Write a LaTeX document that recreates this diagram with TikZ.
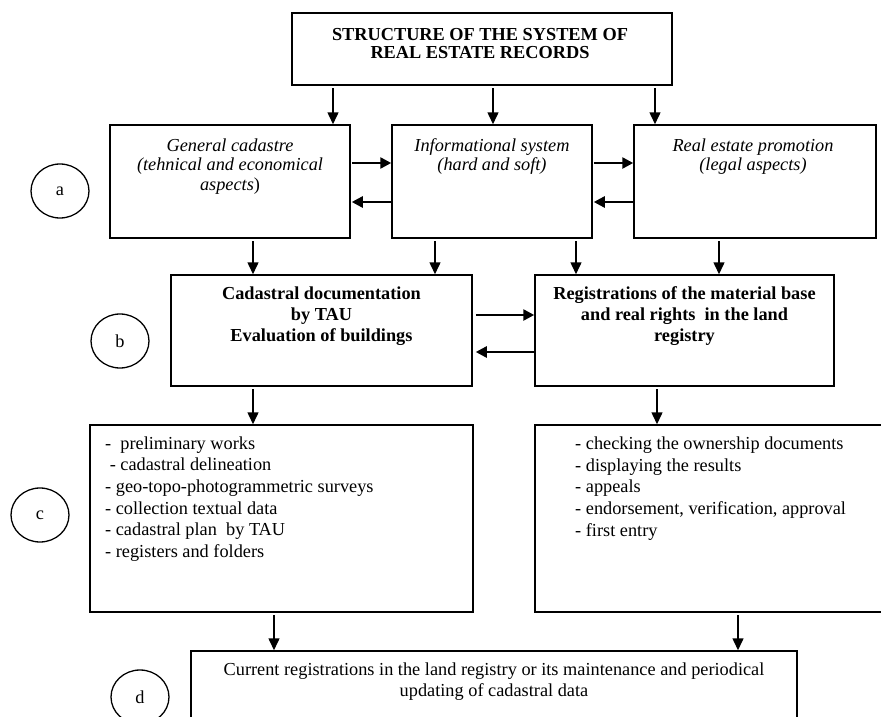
\documentclass[tikz,border=0pt]{standalone}
\usepackage{fontspec}
\setmainfont{Liberation Serif}
\usetikzlibrary{arrows.meta,shapes.geometric}
\newcommand{\myfs}{\fontsize{18.3}{21}\selectfont}
\begin{document}
\begin{tikzpicture}[x=1pt,y=-1pt,
  box/.style={draw, line width=1.5pt, rectangle, inner sep=0pt, outer sep=0.75pt},
  tag/.style={draw, ellipse, line width=1.3pt, minimum width=58pt, minimum height=54pt, inner sep=0pt, font=\myfs},
  varr/.style={line width=1.5pt, -{Triangle[length=12pt,width=11pt]}, shorten <=2.5pt},
  harr/.style={line width=2.5pt, -{Triangle[length=11pt,width=11pt]}},
  txt/.style={align=center, inner sep=0pt},
  lst/.style={align=left, inner sep=0pt, anchor=west, font=\fontsize{18.3}{21.6}\selectfont}]
\useasboundingbox (0,0) rectangle (881,717);

% boxes
\node[box, minimum width=380pt, minimum height=72pt]  (top) at (482,49) {};
\node[box, minimum width=240pt, minimum height=113pt] (gc)  at (230,181.5) {};
\node[box, minimum width=200pt, minimum height=113pt] (is)  at (492,181.5) {};
\node[box, minimum width=242pt, minimum height=113pt] (rep) at (755,181.5) {};
\node[box, minimum width=301pt, minimum height=111pt] (cd)  at (321.5,330.5) {};
\node[box, minimum width=299pt, minimum height=111pt] (reg) at (684.5,330.5) {};
\node[box, minimum width=383pt, minimum height=187pt] (lc)  at (281.5,518.5) {};
\node[box, minimum width=365pt, minimum height=187pt] (rc)  at (717.5,518.5) {};
\node[box, minimum width=606pt, minimum height=109pt] (dd)  at (494,705.5) {};

% texts
\node[txt, font=\bfseries\fontsize{18.3}{18}\selectfont] (ttop) at (480,44)
  {STRUCTURE OF THE SYSTEM OF\\REAL ESTATE RECORDS};
\node[txt, font=\itshape\fontsize{18.3}{19.5}\selectfont] (tgc) at (230,166.5)
  {General cadastre\\(tehnical and economical\\aspects\textup{)}};
\node[txt, font=\itshape\fontsize{18.3}{19.5}\selectfont] (tis) at (492,156.5)
  {Informational system\\(hard and soft)};
\node[txt, font=\itshape\fontsize{18.3}{19.5}\selectfont] (trep) at (753,156.5)
  {Real estate promotion\\(legal aspects)};
\node[txt, font=\bfseries\fontsize{18.3}{21}\selectfont] (tcd) at (321.5,316)
  {Cadastral documentation\\by TAU\\Evaluation of buildings};
\node[txt, font=\bfseries\fontsize{18.3}{21}\selectfont] (treg) at (684.5,316.5)
  {Registrations of the material base\\and real rights\ \ in the land\\registry};
\node[lst] (tlc) at (105,499)
  {-\ \ preliminary works\\
   \ - cadastral delineation\\
   - geo-topo-photogrammetric surveys\\
   - collection textual data\\
   - cadastral plan\ \ by TAU\\
   - registers and folders};
\node[lst] (trc) at (575,488.5)
  {- checking the ownership documents\\
   - displaying the results\\
   - appeals\\
   - endorsement, verification, approval\\
   - first entry};
\node[txt, font=\myfs] (tdd) at (494,681.5)
  {Current registrations in the land registry or its maintenance and periodical\\updating of cadastral data};

% circle tags
\node[tag] (ca) at (60,191) {a};
\node[tag] (cb) at (120,341) {b};
\node[tag] (cc) at (40,515) {c};
\node[tag] (cdd) at (140,697) {d};

% vertical arrows
\draw[varr] (top.south -| 333,0) -- (gc.north -| 333,0);
\draw[varr] (top.south -| 493,0) -- (is.north -| 493,0);
\draw[varr] (top.south -| 655,0) -- (rep.north -| 655,0);
\draw[varr] (gc.south -| 253,0) -- (cd.north -| 253,0);
\draw[varr] (is.south -| 435,0) -- (cd.north -| 435,0);
\draw[varr] (is.south -| 576,0) -- (reg.north -| 576,0);
\draw[varr] (rep.south -| 719,0) -- (reg.north -| 719,0);
\draw[varr] (cd.south -| 253,0) -- (lc.north -| 253,0);
\draw[varr] (reg.south -| 657,0) -- (rc.north -| 657,0);
\draw[varr] (lc.south -| 274,0) -- (dd.north -| 274,0);
\draw[varr] (rc.south -| 738,0) -- (dd.north -| 738,0);

% horizontal arrows
\draw[harr, shorten <=1pt] (gc.east |- 0,163) -- (is.west |- 0,163);
\draw[harr, shorten >=1pt] (is.west |- 0,202) -- (gc.east |- 0,202);
\draw[harr, shorten <=1pt] (is.east |- 0,163) -- (rep.west |- 0,163);
\draw[harr, shorten >=1pt] (rep.west |- 0,202) -- (is.east |- 0,202);
\draw[harr, shorten <=3pt] (cd.east |- 0,315) -- (reg.west |- 0,315);
\draw[harr, shorten >=3pt] (reg.west |- 0,352) -- (cd.east |- 0,352);
\end{tikzpicture}
\end{document}
